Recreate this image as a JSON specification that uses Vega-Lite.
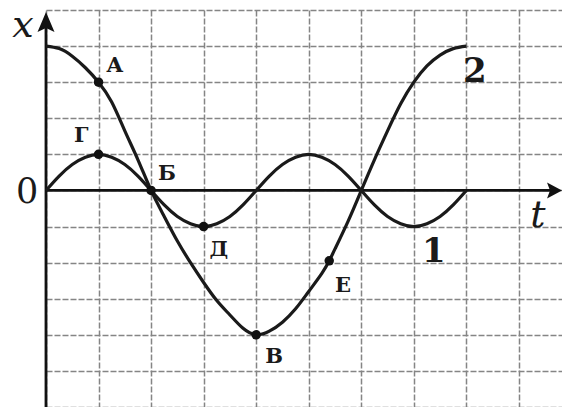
{
  "$schema": "https://vega.github.io/schema/vega-lite/v6.json",
  "width": 516,
  "height": 397,
  "autosize": {"type": "none"},
  "padding": {"left": 46, "top": 10, "right": 0, "bottom": 0},
  "background": "white",
  "config": {"view": {"stroke": null}},
  "datasets": {
    "curve1": [
      {"t": 0, "x": 0}, {"t": 0.25, "x": 0.4}, {"t": 0.5, "x": 0.72}, {"t": 0.75, "x": 0.92},
      {"t": 1, "x": 1}, {"t": 1.25, "x": 0.92}, {"t": 1.5, "x": 0.72}, {"t": 1.75, "x": 0.4},
      {"t": 2, "x": 0}, {"t": 2.25, "x": -0.4}, {"t": 2.5, "x": -0.72}, {"t": 2.75, "x": -0.92},
      {"t": 3, "x": -1}, {"t": 3.25, "x": -0.92}, {"t": 3.5, "x": -0.72}, {"t": 3.75, "x": -0.4},
      {"t": 4, "x": 0}, {"t": 4.25, "x": 0.4}, {"t": 4.5, "x": 0.72}, {"t": 4.75, "x": 0.92},
      {"t": 5, "x": 1}, {"t": 5.25, "x": 0.92}, {"t": 5.5, "x": 0.72}, {"t": 5.75, "x": 0.4},
      {"t": 6, "x": 0}, {"t": 6.25, "x": -0.4}, {"t": 6.5, "x": -0.72}, {"t": 6.75, "x": -0.92},
      {"t": 7, "x": -1}, {"t": 7.25, "x": -0.92}, {"t": 7.5, "x": -0.72}, {"t": 7.75, "x": -0.4},
      {"t": 8, "x": 0}
    ],
    "curve2": [
      {"t": 0, "x": 4}, {"t": 0.25, "x": 3.93}, {"t": 0.5, "x": 3.72}, {"t": 0.75, "x": 3.4},
      {"t": 1, "x": 3.0}, {"t": 1.25, "x": 2.45}, {"t": 1.5, "x": 1.65}, {"t": 1.75, "x": 0.85},
      {"t": 2, "x": 0}, {"t": 2.25, "x": -0.72}, {"t": 2.5, "x": -1.4}, {"t": 2.75, "x": -2.0},
      {"t": 3, "x": -2.55}, {"t": 3.25, "x": -3.05}, {"t": 3.5, "x": -3.45}, {"t": 3.75, "x": -3.82},
      {"t": 4, "x": -4}, {"t": 4.25, "x": -3.9}, {"t": 4.5, "x": -3.65}, {"t": 4.75, "x": -3.28},
      {"t": 5, "x": -2.8}, {"t": 5.25, "x": -2.3}, {"t": 5.39, "x": -1.95}, {"t": 5.5, "x": -1.62},
      {"t": 5.75, "x": -0.85}, {"t": 6, "x": 0}, {"t": 6.25, "x": 0.85}, {"t": 6.5, "x": 1.65},
      {"t": 6.75, "x": 2.4}, {"t": 7, "x": 3.0}, {"t": 7.25, "x": 3.45}, {"t": 7.5, "x": 3.75},
      {"t": 7.75, "x": 3.93}, {"t": 8, "x": 4}
    ],
    "points": [
      {"name": "А", "t": 1, "x": 3},
      {"name": "Б", "t": 2, "x": 0},
      {"name": "В", "t": 4, "x": -4},
      {"name": "Г", "t": 1, "x": 1},
      {"name": "Д", "t": 3, "x": -1},
      {"name": "Е", "t": 5.39, "x": -1.95}
    ],
    "letters": [
      {"label": "А", "t": 1.31, "x": 3.28},
      {"label": "Г", "t": 0.67, "x": 1.34},
      {"label": "Б", "t": 2.3, "x": 0.29},
      {"label": "Д", "t": 3.29, "x": -1.81},
      {"label": "В", "t": 4.34, "x": -4.78},
      {"label": "Е", "t": 5.65, "x": -2.81}
    ],
    "curveLabels": [
      {"label": "1", "t": 7.38, "x": -1.98},
      {"label": "2", "t": 8.16, "x": 3.0}
    ],
    "axisLines": [
      {"t": 0, "x": -6, "t2": 0, "x2": 4.7},
      {"t": 0, "x": 0, "t2": 9.6, "x2": 0}
    ],
    "arrowUp": [{"t": 0, "x": 4.67}],
    "arrowRight": [{"t": 9.63, "x": 0}],
    "zeroLabel": [{"label": "0", "t": -0.36, "x": -0.35}],
    "axisNames": [
      {"label": "x", "t": -0.44, "x": 4.25},
      {"label": "t", "t": 9.36, "x": -1.01}
    ]
  },
  "encoding": {
    "x": {
      "field": "t",
      "type": "quantitative",
      "scale": {"domain": [0, 9.82], "nice": false, "zero": false},
      "axis": {
        "values": [0, 1, 2, 3, 4, 5, 6, 7, 8, 9],
        "grid": true,
        "gridColor": "#858585",
        "gridWidth": 1.5,
        "gridDash": [6, 2],
        "domain": false,
        "ticks": false,
        "labels": false,
        "title": null
      }
    },
    "y": {
      "field": "x",
      "type": "quantitative",
      "scale": {"domain": [-6, 5], "nice": false, "zero": false},
      "axis": {
        "values": [-6, -5, -4, -3, -2, -1, 0, 1, 2, 3, 4, 5],
        "grid": true,
        "gridColor": "#858585",
        "gridWidth": 1.5,
        "gridDash": [6, 2],
        "domain": false,
        "ticks": false,
        "labels": false,
        "title": null
      }
    }
  },
  "layer": [
    {
      "data": {"name": "axisLines"},
      "mark": {"type": "rule", "color": "#111111", "strokeWidth": 2.8},
      "encoding": {
        "x2": {"field": "t2"},
        "y2": {"field": "x2"}
      }
    },
    {
      "data": {"name": "arrowUp"},
      "mark": {"type": "point", "shape": "M0,-1L0.85,1L0,0.6L-0.85,1Z", "filled": true, "color": "#111111", "size": 400, "opacity": 1}
    },
    {
      "data": {"name": "arrowRight"},
      "mark": {"type": "point", "shape": "M1,0L-0.5,0.8L-0.2,0L-0.5,-0.8Z", "filled": true, "color": "#111111", "size": 400, "opacity": 1}
    },
    {
      "data": {"name": "curve1"},
      "mark": {"type": "line", "color": "#1a1a1a", "strokeWidth": 3.2, "interpolate": "natural"}
    },
    {
      "data": {"name": "curve2"},
      "mark": {"type": "line", "color": "#1a1a1a", "strokeWidth": 3.2, "interpolate": "natural"}
    },
    {
      "data": {"name": "points"},
      "mark": {"type": "circle", "color": "#111111", "size": 90, "opacity": 1}
    },
    {
      "data": {"name": "letters"},
      "mark": {"type": "text", "font": "DejaVu Serif", "fontWeight": "bold", "fontSize": 21, "align": "center", "baseline": "alphabetic", "color": "#1a1a1a"},
      "encoding": {"text": {"field": "label"}}
    },
    {
      "data": {"name": "curveLabels"},
      "mark": {"type": "text", "font": "DejaVu Serif", "fontWeight": "bold", "fontSize": 34, "align": "center", "baseline": "alphabetic", "color": "#1a1a1a"},
      "encoding": {"text": {"field": "label"}}
    },
    {
      "data": {"name": "zeroLabel"},
      "mark": {"type": "text", "font": "DejaVu Serif", "fontSize": 35, "align": "center", "baseline": "alphabetic", "color": "#1a1a1a"},
      "encoding": {"text": {"field": "label"}}
    },
    {
      "data": {"name": "axisNames"},
      "mark": {"type": "text", "font": "DejaVu Serif", "fontStyle": "italic", "fontSize": 38, "align": "center", "baseline": "alphabetic", "color": "#1a1a1a"},
      "encoding": {"text": {"field": "label"}}
    }
  ]
}
